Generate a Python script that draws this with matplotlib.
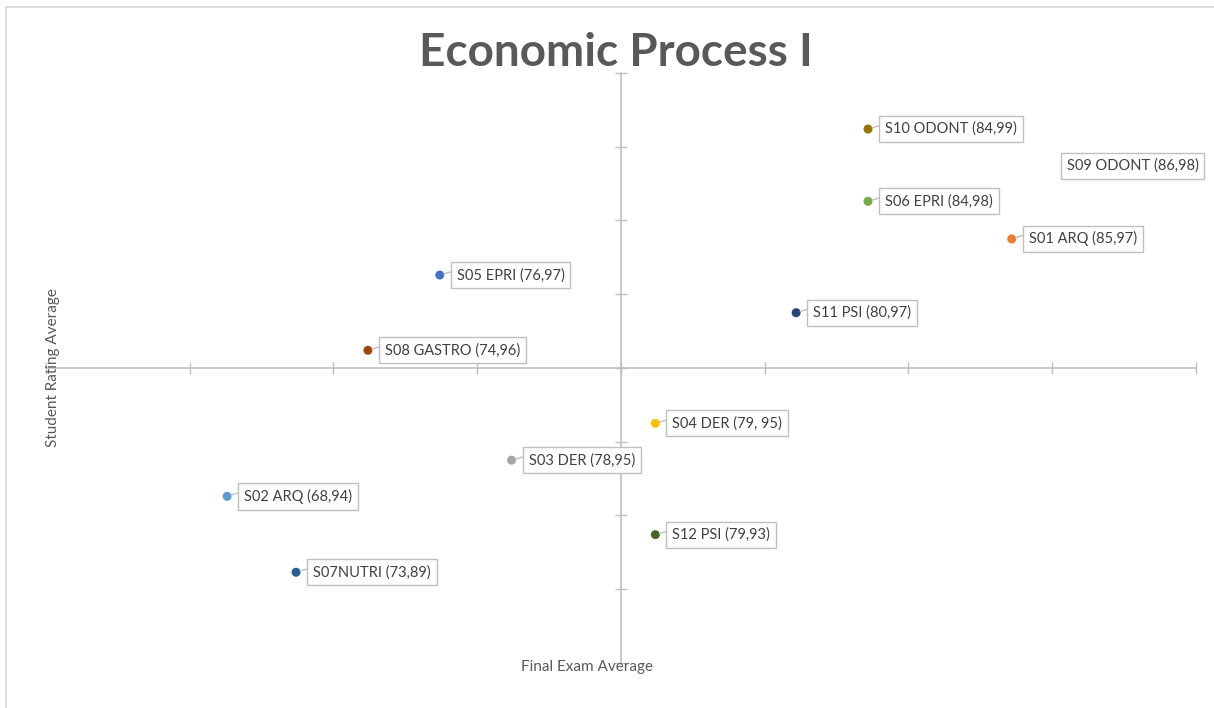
#!/usr/bin/env python3
"""Quadrant scatter: final exam average vs student rating average per section."""

import matplotlib

matplotlib.use("Agg")
import matplotlib.pyplot as plt
from matplotlib.patches import Rectangle

# axes cross at these values
X_CROSS = 78.0
Y_CROSS = 95.0

sections = ["S01", "S02", "S03", "S04", "S05", "S06",
            "S07", "S08", "S09", "S10", "S11", "S12"]
labels = [
    "S01 ARQ (85,97)",
    "S02 ARQ (68,94)",
    "S03 DER (78,95)",
    "S04 DER (79, 95)",
    "S05 EPRI (76,97)",
    "S06 EPRI (84,98)",
    "S07NUTRI (73,89)",
    "S08 GASTRO (74,96)",
    "S09 ODONT (86,98)",
    "S10 ODONT (84,99)",
    "S11 PSI (80,97)",
    "S12 PSI (79,93)",
]
exam_avg = [80.72, 75.26, 77.24, 78.24, 76.74, 79.72,
            75.74, 76.24, 82.80, 79.72, 79.22, 78.24]
rating_avg = [96.75, 93.26, 93.75, 94.25, 96.26, 97.26,
              92.23, 95.24, 97.74, 98.24, 95.75, 92.74]
colors = ["#ED7D31", "#5B9BD5", "#A5A5A5", "#FFC000", "#4472C4", "#70AD47",
          "#255E91", "#9E480E", "#636363", "#997300", "#264478", "#43682B"]

FONT = ["Lato", "DejaVu Sans"]
AXIS_GRAY = "#BFBFBF"
TEXT_GRAY = "#595959"


def main() -> None:
    plt.rcParams["font.family"] = FONT
    fig = plt.figure(figsize=(12.14, 7.08), dpi=100)

    # chart area frame (only top/left visible in the cropped original)
    fig.patches.append(Rectangle((0.005, -0.1), 1.2, 1.09, transform=fig.transFigure,
                                 fill=False, edgecolor="#D9D9D9", linewidth=1.2))

    ax = fig.add_axes([0.0379, 0.0636, 0.947, 0.8333])
    ax.set_xlim(X_CROSS - 4, X_CROSS + 4)
    ax.set_ylim(Y_CROSS - 4, Y_CROSS + 4)

    for side in ("top", "right"):
        ax.spines[side].set_visible(False)
    ax.spines["left"].set_position(("data", X_CROSS))
    ax.spines["bottom"].set_position(("data", Y_CROSS))
    for side in ("left", "bottom"):
        ax.spines[side].set_color(AXIS_GRAY)
        ax.spines[side].set_linewidth(1.2)

    ax.set_xticks([X_CROSS + i for i in range(-4, 5)])
    ax.set_yticks([Y_CROSS + i for i in range(-4, 5)])
    ax.tick_params(direction="inout", length=9, width=1.0, color=AXIS_GRAY,
                   labelbottom=False, labelleft=False)

    for i, name in enumerate(sections):
        ax.scatter(exam_avg[i], rating_avg[i], s=42, color=colors[i], zorder=3,
                   edgecolors="none", clip_on=True)
        inside = exam_avg[i] <= X_CROSS + 4
        offset = (17, 0) if inside else (-244, 0)
        ax.annotate(
            labels[i], xy=(exam_avg[i], rating_avg[i]), xytext=offset,
            textcoords="offset pixels", ha="left", va="center",
            fontsize=10.5, color="#404040", annotation_clip=False,
            bbox=dict(boxstyle="square,pad=0.4", fc="white", ec=AXIS_GRAY, lw=1.0),
            arrowprops=dict(arrowstyle="-", color=AXIS_GRAY, lw=1.0,
                            relpos=(0, 0.85), shrinkA=0, shrinkB=3) if inside else None,
            zorder=4,
        )

    fig.text(0.507, 0.925, "Economic Process I", ha="center", va="center",
             fontsize=33, fontweight="bold", color=TEXT_GRAY)
    fig.text(0.4835, 0.058, "Final Exam Average", ha="center", va="center",
             fontsize=11, color=TEXT_GRAY)
    fig.text(0.0435, 0.481, "Student Rating Average", ha="center", va="center",
             rotation=90, fontsize=11, color=TEXT_GRAY)

    fig.savefig("out.png", dpi=100)


if __name__ == "__main__":
    main()
